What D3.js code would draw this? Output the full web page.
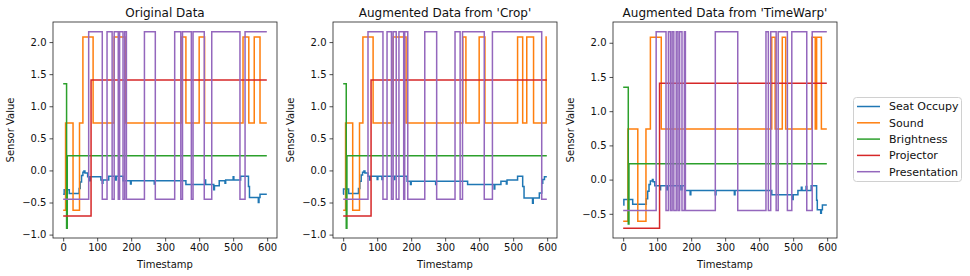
<!DOCTYPE html>
<html>
<head>
<meta charset="utf-8">
<script src="https://cdn.jsdelivr.net/npm/d3@7"></script>
<style>
  body { margin: 0; background: #fff; }
  text { font-family: "DejaVu Sans", sans-serif; fill: #111; }
</style>
</head>
<body>
<div id="chart"></div>
<script>
// Sensor names, in legend / draw order
const sensors = ["Seat Occupy", "Sound", "Brightness", "Projector", "Presentation"];
const panelTitles = ["Original Data", "Augmented Data from 'Crop'", "Augmented Data from 'TimeWarp'"];
const xTicks = [0, 100, 200, 300, 400, 500, 600];
const yTicksFull = [-1.0, -0.5, 0.0, 0.5, 1.0, 1.5, 2.0];
const yTicksWarp = [-0.5, 0.0, 0.5, 1.0, 1.5, 2.0];
const lastT = 599;

// Each series is a list of [timestamp, value] change points (value holds until the next one)
const origSeat = [[0,-0.37],[3,-0.30],[18,-0.36],[47,-0.28],[50,-0.18],[54,-0.08],[58,-0.03],[61,-0.01],[64,-0.04],[72,-0.10],[78,-0.16],[80,-0.10],[111,-0.15],[115,-0.20],[117,-0.15],[134,-0.09],[154,-0.15],[156,-0.09],[176,-0.16],[198,-0.21],[200,-0.16],[268,-0.21],[270,-0.16],[361,-0.22],[417,-0.15],[419,-0.22],[443,-0.30],[445,-0.24],[459,-0.16],[476,-0.20],[478,-0.15],[500,-0.10],[502,-0.15],[522,-0.09],[545,-0.25],[548,-0.42],[574,-0.50],[576,-0.42],[579,-0.37]];
const origSound = [[0,-0.62],[7,0.74],[29,-0.62],[48,0.74],[58,2.08],[88,0.74],[150,2.08],[184,0.74],[347,2.08],[361,0.74],[400,2.08],[416,0.74],[529,2.08],[546,0.74],[562,2.08],[579,0.74]];
const origBright = [[0,1.35],[10,-0.90],[12,0.23]];
const origProj = [[0,-0.71],[82,1.41]];
const origPres = [[0,-0.45],[75,2.16],[115,-0.45],[129,2.16],[144,-0.45],[150,2.16],[162,-0.45],[166,2.16],[176,-0.45],[181,2.16],[186,-0.45],[239,2.16],[271,-0.45],[328,2.16],[346,-0.45],[351,2.16],[377,-0.45],[382,2.16],[415,-0.45],[437,2.16],[520,-0.45],[535,2.16]];

const cropSeat = [[0,-0.37],[1,-0.29],[16,-0.36],[45,-0.28],[49,-0.17],[53,-0.07],[57,-0.03],[61,-0.01],[64,-0.04],[73,-0.09],[78,-0.15],[80,-0.09],[100,-0.14],[102,-0.09],[114,-0.14],[116,-0.09],[150,-0.14],[152,-0.09],[188,-0.17],[198,-0.22],[200,-0.17],[272,-0.22],[274,-0.17],[366,-0.22],[444,-0.29],[446,-0.22],[464,-0.17],[480,-0.21],[482,-0.15],[513,-0.09],[528,-0.25],[532,-0.43],[557,-0.51],[559,-0.43],[577,-0.35],[584,-0.20],[587,-0.14],[592,-0.10]];
const cropSound = [[0,-0.62],[7,0.74],[28,-0.62],[48,0.74],[58,2.08],[88,0.74],[147,2.08],[185,0.74],[352,2.08],[361,0.74],[400,2.08],[417,0.74],[513,2.08],[528,0.74],[540,2.08],[560,0.74],[597,2.08]];
const cropBright = [[0,1.35],[9,-0.90],[11,0.23]];
const cropProj = [[0,-0.71],[82,1.41]];
const cropPres = [[0,-0.45],[73,2.16],[117,-0.45],[129,2.16],[142,-0.45],[147,2.16],[156,-0.45],[164,2.16],[178,-0.45],[181,2.16],[190,-0.45],[240,2.16],[275,-0.45],[329,2.16],[344,-0.45],[351,2.16],[415,-0.45],[439,2.16],[584,-0.45]];

const warpSeat = [[0,-0.37],[2,-0.29],[28,-0.36],[68,-0.28],[72,-0.17],[76,-0.07],[80,-0.02],[86,0.00],[88,-0.03],[93,-0.09],[108,-0.15],[110,-0.09],[128,-0.15],[131,-0.09],[170,-0.15],[173,-0.09],[182,-0.16],[197,-0.22],[199,-0.16],[271,-0.22],[273,-0.16],[327,-0.22],[329,-0.16],[437,-0.22],[498,-0.29],[500,-0.22],[514,-0.16],[524,-0.11],[526,-0.16],[538,-0.10],[540,-0.16],[553,-0.09],[569,-0.30],[571,-0.44],[581,-0.49],[583,-0.44],[586,-0.37]];
const warpSound = [[0,-0.61],[14,0.74],[43,-0.61],[67,0.74],[80,2.08],[112,0.74],[437,2.08],[447,0.74],[468,2.08],[478,0.74],[555,2.08],[565,0.74],[569,2.08],[583,0.74]];
const warpBright = [[0,1.35],[15,-0.65],[17,0.23]];
const warpProj = [[0,-0.71],[107,1.41]];
const warpPres = [[0,-0.45],[97,2.16],[126,-0.45],[133,2.16],[139,-0.45],[144,2.16],[149,-0.45],[156,2.16],[161,-0.45],[166,2.16],[173,-0.45],[180,2.16],[183,-0.45],[271,2.16],[337,-0.45],[420,2.16],[427,-0.45],[434,2.16],[450,-0.45],[456,2.16],[483,-0.45],[496,2.16],[540,-0.45],[556,2.16]];

// Matplotlib tab10 colours
const colors = ["#1f77b4", "#ff7f0e", "#2ca02c", "#d62728", "#9467bd"];

const panels = [
    {title: panelTitles[0], yTicks: yTicksFull, series: [origSeat, origSound, origBright, origProj, origPres]},
    {title: panelTitles[1], yTicks: yTicksFull, series: [cropSeat, cropSound, cropBright, cropProj, cropPres]},
    {title: panelTitles[2], yTicks: yTicksWarp, series: [warpSeat, warpSound, warpBright, warpProj, warpPres]}
];

const width = 970, height = 276;
const plotLefts = [53, 333, 613];
const plotWidth = 224, plotTop = 22, plotHeight = 216;

const svg = d3.select("#chart")
              .append("svg")
              .attr("width", width)
              .attr("height", height);

panels.forEach(function (panel, i) {
    const left = plotLefts[i];

    // X scale with matplotlib-like 5% margins
    const xPad = lastT * 0.05;
    const xScale = d3.scaleLinear()
                     .domain([-xPad, lastT + xPad])
                     .range([left, left + plotWidth]);

    // Y scale from data extent, 5% margins
    const allValues = panel.series.flatMap(s => s.map(d => d[1]));
    const yMin = d3.min(allValues), yMax = d3.max(allValues);
    const yPad = (yMax - yMin) * 0.05;
    const yScale = d3.scaleLinear()
                     .domain([yMin - yPad, yMax + yPad])
                     .range([plotTop + plotHeight, plotTop]);

    const line = d3.line()
                   .x(d => xScale(d[0]))
                   .y(d => yScale(d[1]))
                   .curve(d3.curveStepAfter);

    // Lines, drawn in sensor order so Presentation ends on top
    panel.series.forEach(function (s, j) {
        const pts = s.concat([[lastT, s[s.length - 1][1]]]);
        svg.append("path")
           .datum(pts)
           .attr("d", line)
           .attr("fill", "none")
           .attr("stroke", colors[j])
           .attr("stroke-width", 1.5);
    });

    // Axes
    const xAxis = svg.append("g")
                     .attr("transform", "translate(0," + (plotTop + plotHeight) + ")")
                     .call(d3.axisBottom(xScale).tickValues(xTicks).tickSize(3.5).tickPadding(2.5));
    const yAxis = svg.append("g")
                     .attr("transform", "translate(" + left + ",0)")
                     .call(d3.axisLeft(yScale).tickValues(panel.yTicks).tickFormat(d3.format(".1f")).tickSize(3.5).tickPadding(3));
    [xAxis, yAxis].forEach(function (a) {
        a.select(".domain").remove();
        a.selectAll("line").attr("stroke", "#222").attr("stroke-width", 0.8);
        a.selectAll("text").style("font-size", "10px").attr("fill", "#222");
    });

    // Frame
    svg.append("rect")
       .attr("x", left)
       .attr("y", plotTop)
       .attr("width", plotWidth)
       .attr("height", plotHeight)
       .attr("fill", "none")
       .attr("stroke", "#222")
       .attr("stroke-width", 0.8);

    // Title and axis labels
    svg.append("text")
       .attr("x", left + plotWidth / 2)
       .attr("y", 17)
       .attr("text-anchor", "middle")
       .style("font-size", "12px")
       .text(panel.title);
    svg.append("text")
       .attr("x", left + plotWidth / 2)
       .attr("y", 268)
       .attr("text-anchor", "middle")
       .style("font-size", "10px")
       .text("Timestamp");
    svg.append("text")
       .attr("transform", "translate(" + (left - 39) + "," + (plotTop + plotHeight / 2) + ") rotate(-90)")
       .attr("text-anchor", "middle")
       .style("font-size", "10px")
       .text("Sensor Value");
});

// Legend
const legend = svg.append("g");
legend.append("rect")
      .attr("x", 853.5)
      .attr("y", 97.5)
      .attr("width", 108)
      .attr("height", 84)
      .attr("rx", 3)
      .attr("fill", "#fff")
      .attr("stroke", "#d0d0d0");
sensors.forEach(function (name, j) {
    const y = 106.5 + j * 16.3;
    legend.append("line")
          .attr("x1", 857).attr("x2", 880)
          .attr("y1", y).attr("y2", y)
          .attr("stroke", colors[j])
          .attr("stroke-width", 1.5);
    legend.append("text")
          .attr("x", 889)
          .attr("y", y)
          .attr("dy", "0.35em")
          .style("font-size", "11px")
          .text(name);
});
</script>
</body>
</html>
